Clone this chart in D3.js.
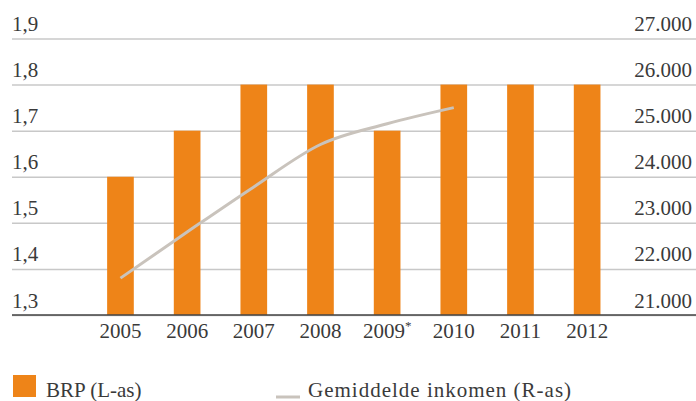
<!DOCTYPE html>
<html>
<head>
<meta charset="utf-8">
<script src="https://cdn.jsdelivr.net/npm/d3@7"></script>
<style>
  body { margin: 0; background: #fff; }
  text { font-family: "Liberation Serif", serif; fill: #3a3a3a; }
</style>
</head>
<body>
<svg id="chart"></svg>
<script>
var years = ["2005", "2006", "2007", "2008", "2009*", "2010", "2011", "2012"];
var brp = [1.6, 1.7, 1.8, 1.8, 1.7, 1.8, 1.8, 1.8];
var incomeYears = ["2005", "2006", "2007", "2008", "2009*", "2010"];
var income = [21800, 22800, 23780, 24700, 25150, 25500];
var leftTicks = [1.3, 1.4, 1.5, 1.6, 1.7, 1.8, 1.9];
var rightTicks = [21000, 22000, 23000, 24000, 25000, 26000, 27000];

var dimensions = {
  width: 696,
  height: 401,
  gridLeft: 12,
  gridRight: 696,
  top: 38.5,
  bottom: 315,
};

var nl = d3.formatLocale({
  decimal: ",",
  thousands: ".",
  grouping: [3],
  currency: ["", ""],
});
var leftFormat = nl.format(".1f");
var rightFormat = nl.format(",d");

var svg = d3
  .select("#chart")
  .attr("width", dimensions.width)
  .attr("height", dimensions.height);

var xScale = d3
  .scaleBand()
  .domain(years)
  .range([93.8, 613.8])
  .paddingInner(0.6)
  .paddingOuter(0.2);

var yLeft = d3
  .scaleLinear()
  .domain([1.3, 1.9])
  .range([dimensions.bottom, dimensions.top]);

var yRight = d3
  .scaleLinear()
  .domain([21000, 27000])
  .range([dimensions.bottom, dimensions.top]);

// gridlines + left labels
var leftAxis = svg
  .append("g")
  .attr("transform", "translate(" + dimensions.gridLeft + ",0)")
  .call(
    d3
      .axisRight(yLeft)
      .tickValues(leftTicks)
      .tickSize(dimensions.gridRight - dimensions.gridLeft)
      .tickFormat(leftFormat)
  );
leftAxis.select(".domain").remove();
leftAxis
  .selectAll(".tick line")
  .attr("stroke", "#c8c8c8")
  .attr("stroke-width", 1.5);
leftAxis
  .selectAll(".tick text")
  .attr("x", 0)
  .attr("y", -8)
  .attr("dy", null)
  .attr("text-anchor", "start")
  .attr("fill", "#3a3a3a")
  .style("font-size", "21px");

// right labels
var rightAxis = svg
  .append("g")
  .attr("transform", "translate(692,0)")
  .call(
    d3
      .axisLeft(yRight)
      .tickValues(rightTicks)
      .tickSize(0)
      .tickFormat(rightFormat)
  );
rightAxis.select(".domain").remove();
rightAxis
  .selectAll(".tick text")
  .attr("x", 0)
  .attr("y", -8)
  .attr("dy", null)
  .attr("text-anchor", "end")
  .attr("fill", "#3a3a3a")
  .style("font-size", "21px");

// bars
svg
  .append("g")
  .selectAll("rect")
  .data(years)
  .enter()
  .append("rect")
  .attr("x", (d) => xScale(d))
  .attr("width", xScale.bandwidth())
  .attr("y", (d, i) => yLeft(brp[i]))
  .attr("height", (d, i) => yLeft(1.3) - yLeft(brp[i]))
  .attr("fill", "#ee8418");

// income line
var line = d3
  .line()
  .x((d, i) => xScale(incomeYears[i]) + xScale.bandwidth() / 2)
  .y((d) => yRight(d))
  .curve(d3.curveMonotoneX);

svg
  .append("path")
  .datum(income)
  .attr("d", line)
  .attr("fill", "none")
  .attr("stroke", "#c9c3bc")
  .attr("stroke-width", 3);

// x axis
var xAxis = svg
  .append("g")
  .attr("transform", "translate(0," + dimensions.bottom + ")")
  .call(d3.axisBottom(xScale).tickSize(0));
xAxis.select(".domain").remove();
xAxis
  .selectAll(".tick text")
  .attr("y", 23)
  .attr("dy", null)
  .attr("fill", "#3a3a3a")
  .style("font-size", "21px")
  .each(function (d) {
    if (d.indexOf("*") > -1) {
      var t = d3.select(this).text(d.replace("*", ""));
      t.append("tspan")
        .attr("dy", -8)
        .style("font-size", "13px")
        .text("*");
    }
  });

svg
  .append("line")
  .attr("x1", dimensions.gridLeft)
  .attr("x2", dimensions.gridRight)
  .attr("y1", dimensions.bottom)
  .attr("y2", dimensions.bottom)
  .attr("stroke", "#444")
  .attr("stroke-width", 1.5);

// legend
var legend = svg.append("g");
legend
  .append("rect")
  .attr("x", 13)
  .attr("y", 375)
  .attr("width", 23)
  .attr("height", 22)
  .attr("fill", "#ee8418");
legend
  .append("text")
  .attr("x", 46)
  .attr("y", 397)
  .style("font-size", "21px")
  .text("BRP (L-as)");
legend
  .append("line")
  .attr("x1", 276)
  .attr("x2", 300)
  .attr("y1", 397)
  .attr("y2", 397)
  .attr("stroke", "#c9c3bc")
  .attr("stroke-width", 3);
legend
  .append("text")
  .attr("x", 308)
  .attr("y", 397)
  .style("font-size", "21px")
  .style("letter-spacing", "1px")
  .text("Gemiddelde inkomen (R-as)");
</script>
</body>
</html>
